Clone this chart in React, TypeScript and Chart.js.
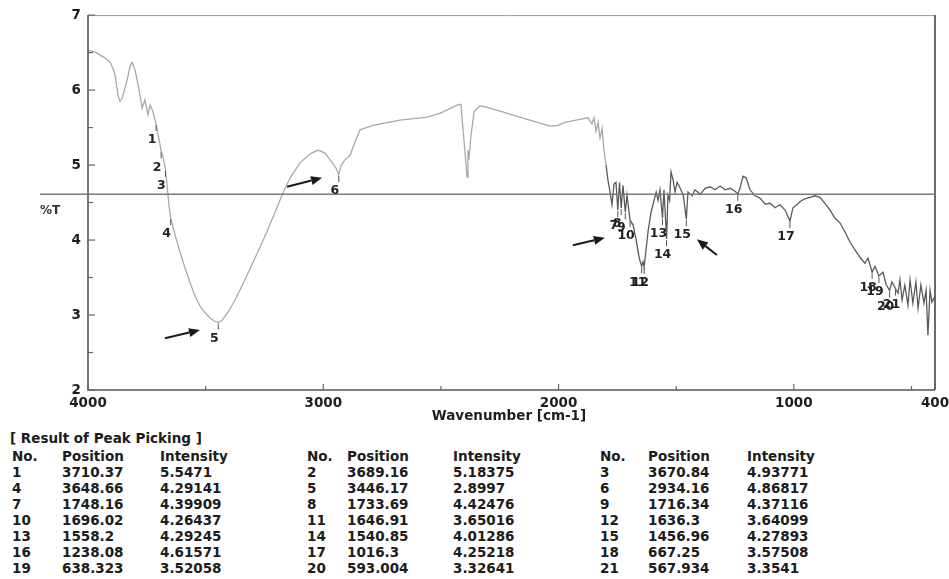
import React, { useEffect, useRef } from 'react';
import { Chart, registerables } from 'chart.js';

Chart.register(...registerables);

// Spectrum (wavenumber, %T)
const wavenumbers = [
  4000, 3970, 3949, 3928, 3906, 3894, 3885, 3872, 3864, 3855, 3843, 3834, 3821, 3813, 3800, 3787, 3779, 3770,
  3758, 3745, 3736, 3724, 3710.37, 3702, 3696, 3689.16, 3681, 3670.84, 3664, 3656, 3648.66, 3630, 3609, 3588,
  3566, 3545, 3524, 3503, 3481, 3464, 3446.17, 3430, 3405, 3375, 3333, 3290, 3248, 3205, 3171, 3141, 3099, 3056,
  3022, 2993, 2963, 2946, 2934.16, 2925, 2908, 2886, 2865, 2844, 2789, 2674, 2559, 2504, 2432, 2415, 2402, 2393,
  2389, 2385, 2381, 2372, 2359, 2334, 2291, 2207, 2122, 2036, 2002, 1973, 1909, 1875, 1858, 1849, 1841, 1832,
  1824, 1815, 1807, 1798, 1790, 1781, 1773, 1764, 1756, 1748.16, 1741, 1733.69, 1726, 1716.34, 1709, 1696.02,
  1683, 1670, 1657, 1646.91, 1641, 1636.3, 1628, 1619, 1607, 1594, 1585, 1577, 1569, 1558.2, 1552, 1540.85, 1535,
  1528, 1522, 1513, 1505, 1496, 1483, 1470, 1456.96, 1450, 1432, 1420, 1398, 1377, 1356, 1335, 1313, 1292, 1271,
  1250, 1238.08, 1229, 1216, 1203, 1186, 1165, 1144, 1122, 1101, 1080, 1059, 1037, 1016.3, 1004, 987, 974, 953,
  931, 910, 889, 868, 846, 825, 804, 783, 761, 740, 719, 698, 685, 667.25, 655, 638.323, 621, 608, 593.004, 583,
  567.934, 557, 549, 540, 528, 515, 506, 494, 481, 472, 460, 447, 438, 430, 421, 413, 400,
];
const transmittance = [
  6.53, 6.51, 6.47, 6.43, 6.37, 6.29, 6.2, 5.93, 5.85, 5.89, 6.03, 6.13, 6.32, 6.37, 6.27, 6.07, 5.93, 5.76,
  5.87, 5.67, 5.8, 5.71, 5.5471, 5.4, 5.31, 5.18375, 5.11, 4.93771, 4.73, 4.47, 4.29141, 4.07, 3.84, 3.63,
  3.43, 3.25, 3.12, 3.03, 2.96, 2.92, 2.8997, 2.93, 3.04, 3.2, 3.47, 3.76, 4.05, 4.37, 4.63, 4.83, 5.03, 5.15,
  5.2, 5.16, 5.04, 4.96, 4.86817, 4.99, 5.07, 5.13, 5.31, 5.47, 5.53, 5.6, 5.64, 5.69, 5.8, 5.81, 5.33, 5.0,
  4.84, 5.2, 5.07, 5.4, 5.71, 5.79, 5.76, 5.68, 5.6, 5.52, 5.53, 5.57, 5.61, 5.63, 5.55, 5.63, 5.45, 5.57,
  5.36, 5.49, 5.2, 5.0, 4.8, 4.64, 4.47, 4.75, 4.77, 4.39909, 4.77, 4.42476, 4.73, 4.37116, 4.6, 4.26437,
  4.2, 4.0, 3.76, 3.65016, 3.71, 3.64099, 3.87, 4.13, 4.37, 4.53, 4.64, 4.53, 4.67, 4.29245, 4.67, 4.01286, 4.6,
  4.53, 4.91, 4.8, 4.64, 4.77, 4.69, 4.6, 4.27893, 4.64, 4.59, 4.67, 4.61, 4.69, 4.71, 4.67, 4.72, 4.67, 4.69,
  4.65, 4.61571, 4.69, 4.85, 4.83, 4.67, 4.59, 4.56, 4.48, 4.49, 4.43, 4.47, 4.4, 4.25218, 4.43, 4.47, 4.51, 4.55,
  4.57, 4.59, 4.57, 4.49, 4.4, 4.29, 4.23, 4.11, 3.97, 3.87, 3.77, 3.69, 3.76, 3.57508, 3.65, 3.52058, 3.57, 3.41, 3.32641, 3.44,
  3.3541, 3.29, 3.47, 3.2, 3.4, 3.13, 3.47, 3.16, 3.44, 3.09, 3.4, 3.16, 3.33, 2.73, 3.33, 3.17, 3.25,
];

// Peak picking result
const peakNo = [1, 2, 3, 4, 5, 6, 7, 8, 9, 10, 11, 12, 13, 14, 15, 16, 17, 18, 19, 20, 21];
const peakPosition = [
  '3710.37', '3689.16', '3670.84', '3648.66', '3446.17', '2934.16', '1748.16', '1733.69', '1716.34', '1696.02',
  '1646.91', '1636.3', '1558.2', '1540.85', '1456.96', '1238.08', '1016.3', '667.25', '638.323', '593.004', '567.934',
];
const peakIntensity = [
  '5.5471', '5.18375', '4.93771', '4.29141', '2.8997', '4.86817', '4.39909', '4.42476', '4.37116', '4.26437',
  '3.65016', '3.64099', '4.29245', '4.01286', '4.27893', '4.61571', '4.25218', '3.57508', '3.52058', '3.32641', '3.3541',
];

const xTickValues = [4000, 3500, 3000, 2500, 2000, 1500, 1000, 500, 400];
const xTickLabels = [4000, 3000, 2000, 1000, 400];
const yTickValues = [2, 2.5, 3, 3.5, 4, 4.5, 5, 5.5, 6, 6.5, 7];
const yTickLabels = [2, 3, 4, 5, 6, 7];
const thresholdLevel = 4.61;

// Hand-drawn arrows (tail -> head, in data units)
const arrowTailX = [3673, 3154, 1939, 1327];
const arrowTailY = [2.69, 4.71, 3.93, 3.8];
const arrowHeadX = [3524, 3005, 1803, 1412];
const arrowHeadY = [2.8, 4.83, 4.03, 4.01];

const FONT = '"DejaVu Sans", sans-serif';

const overlayPlugin = {
  id: 'irOverlay',
  afterDatasetsDraw(chart: any) {
    const { ctx, chartArea: a, scales } = chart;
    const xs = scales.x;
    const ys = scales.y;
    ctx.save();
    // frame
    ctx.strokeStyle = '#9a9a9a';
    ctx.lineWidth = 1;
    ctx.beginPath();
    ctx.moveTo(a.left, a.top + 0.5);
    ctx.lineTo(a.right, a.top + 0.5);
    ctx.stroke();
    ctx.strokeStyle = '#555';
    ctx.lineWidth = 1.6;
    ctx.beginPath();
    ctx.moveTo(a.left, a.top);
    ctx.lineTo(a.left, a.bottom);
    ctx.lineTo(a.right, a.bottom);
    ctx.stroke();
    ctx.strokeStyle = '#444';
    ctx.beginPath();
    ctx.moveTo(a.right, a.top);
    ctx.lineTo(a.right, a.bottom);
    ctx.stroke();
    // ticks
    ctx.lineWidth = 1.2;
    ctx.strokeStyle = '#666';
    xTickValues.forEach((v) => {
      const px = xs.getPixelForValue(v);
      const len = xTickLabels.includes(v) ? 6 : 4;
      ctx.beginPath();
      ctx.moveTo(px, a.bottom);
      ctx.lineTo(px, a.bottom - len);
      ctx.stroke();
    });
    yTickValues.forEach((v) => {
      const py = ys.getPixelForValue(v);
      const len = yTickLabels.includes(v) ? 7 : 5;
      ctx.beginPath();
      ctx.moveTo(a.left, py);
      ctx.lineTo(a.left + len, py);
      ctx.stroke();
    });
    // threshold line
    const ty = ys.getPixelForValue(thresholdLevel);
    ctx.strokeStyle = '#7a7a7a';
    ctx.lineWidth = 1.5;
    ctx.beginPath();
    ctx.moveTo(a.left - 48, ty);
    ctx.lineTo(a.right, ty);
    ctx.stroke();
    // %T
    ctx.fillStyle = '#333';
    ctx.font = `bold 12px ${FONT}`;
    ctx.textAlign = 'left';
    ctx.textBaseline = 'middle';
    ctx.fillText('%T', 40, ty + 17);
    // axis title
    ctx.font = `bold 13.5px ${FONT}`;
    ctx.textAlign = 'center';
    ctx.fillStyle = '#1e1e1e';
    ctx.fillText('Wavenumber [cm-1]', 509, a.bottom + 26);
    // peak labels
    ctx.font = `bold 12.5px ${FONT}`;
    ctx.fillStyle = '#222';
    ctx.strokeStyle = '#555';
    ctx.lineWidth = 1;
    peakNo.forEach((n, i) => {
      const px = xs.getPixelForValue(parseFloat(peakPosition[i]));
      const py = ys.getPixelForValue(parseFloat(peakIntensity[i]));
      ctx.beginPath();
      ctx.moveTo(px, py + 1);
      ctx.lineTo(px, py + 7);
      ctx.stroke();
      ctx.fillText(String(n), px - 4, py + 16);
    });
    // arrows
    ctx.strokeStyle = '#1a1a1a';
    ctx.fillStyle = '#1a1a1a';
    ctx.lineWidth = 2;
    arrowTailX.forEach((_, i) => {
      const x0 = xs.getPixelForValue(arrowTailX[i]);
      const y0 = ys.getPixelForValue(arrowTailY[i]);
      const x1 = xs.getPixelForValue(arrowHeadX[i]);
      const y1 = ys.getPixelForValue(arrowHeadY[i]);
      const ang = Math.atan2(y1 - y0, x1 - x0);
      const hl = 11;
      const hw = 4.5;
      const bx = x1 - hl * Math.cos(ang);
      const by = y1 - hl * Math.sin(ang);
      ctx.beginPath();
      ctx.moveTo(x0, y0);
      ctx.lineTo(bx, by);
      ctx.stroke();
      ctx.beginPath();
      ctx.moveTo(x1, y1);
      ctx.lineTo(bx + hw * Math.sin(ang), by - hw * Math.cos(ang));
      ctx.lineTo(bx - hw * Math.sin(ang), by + hw * Math.cos(ang));
      ctx.closePath();
      ctx.fill();
    });
    ctx.restore();
  },
};

function PeakTable() {
  const rowTop = 448;
  const rowH = 16;
  const groups = [
    { no: 12, pos: 62, inten: 160 },
    { no: 307, pos: 347, inten: 453 },
    { no: 600, pos: 648, inten: 747 },
  ];
  const cell = (text: string, left: number, top: number, key: string) => (
    <div
      key={key}
      style={{
        position: 'absolute',
        left,
        top,
        height: rowH,
        lineHeight: `${rowH}px`,
        whiteSpace: 'nowrap',
        font: `bold 13.5px ${FONT}`,
        color: '#1c1c1c',
      }}
    >
      {text}
    </div>
  );
  const items: any[] = [];
  items.push(cell('[ Result of Peak Picking ]', 10, rowTop - 18, 'title'));
  groups.forEach((g, gi) => {
    items.push(cell('No.', g.no, rowTop, `hn${gi}`));
    items.push(cell('Position', g.pos, rowTop, `hp${gi}`));
    items.push(cell('Intensity', g.inten, rowTop, `hi${gi}`));
  });
  peakNo.forEach((n, i) => {
    const r = Math.floor(i / 3);
    const g = groups[i % 3];
    const top = rowTop + rowH * (r + 1);
    items.push(cell(String(n), g.no, top, `n${i}`));
    items.push(cell(peakPosition[i], g.pos, top, `p${i}`));
    items.push(cell(peakIntensity[i], g.inten, top, `i${i}`));
  });
  return <>{items}</>;
}

export default function App() {
  const canvasRef = useRef<HTMLCanvasElement>(null);
  useEffect(() => {
    if (!canvasRef.current) return;
    const chart = new Chart(canvasRef.current, {
      type: 'line',
      data: {
        datasets: [
          {
            data: wavenumbers.map((x, i) => ({ x, y: transmittance[i] })),
            borderColor: '#777',
            borderWidth: 1.3,
            pointRadius: 0,
            tension: 0,
            segment: {
              borderColor: (c: any) => (c.p0.parsed.x > 1800 ? '#a9a9a9' : '#5a5a5a'),
            },
          },
        ],
      },
      options: {
        animation: false,
        responsive: false,
        devicePixelRatio: 1,
        layout: { padding: { left: 0, right: 0, top: 15, bottom: 0 } },
        plugins: { legend: { display: false }, tooltip: { enabled: false }, title: { display: false } },
        scales: {
          x: {
            type: 'linear',
            reverse: true,
            min: 400,
            max: 4000,
            afterBuildTicks: (s: any) => {
              s.ticks = xTickValues.map((value) => ({ value }));
            },
            afterFit: (s: any) => {
              s.height = 35;
              s.paddingRight = 14;
            },
            ticks: {
              autoSkip: false,
              maxRotation: 0,
              padding: 5,
              color: '#1e1e1e',
              font: { family: FONT, weight: 'bold', size: 13.5 },
              callback: (v: any) => (xTickLabels.includes(v) ? String(v) : ''),
            },
            grid: { display: false, drawTicks: false },
            border: { display: false },
          },
          y: {
            type: 'linear',
            min: 2,
            max: 7,
            afterBuildTicks: (s: any) => {
              s.ticks = yTickValues.map((value) => ({ value }));
            },
            afterFit: (s: any) => {
              s.width = 88;
            },
            ticks: {
              autoSkip: false,
              padding: 7,
              color: '#1e1e1e',
              font: { family: FONT, weight: 'bold', size: 13.5 },
              callback: (v: any) => (yTickLabels.includes(v) ? String(v) : ''),
            },
            grid: { display: false, drawTicks: false },
            border: { display: false },
          },
        },
      },
      plugins: [overlayPlugin],
    });
    return () => chart.destroy();
  }, []);

  return (
    <div style={{ position: 'absolute', left: 0, top: 0, width: 949, height: 579, background: '#fff', overflow: 'hidden' }}>
      <canvas ref={canvasRef} width={949} height={425} style={{ position: 'absolute', left: 0, top: 0 }} />
      <PeakTable />
    </div>
  );
}
